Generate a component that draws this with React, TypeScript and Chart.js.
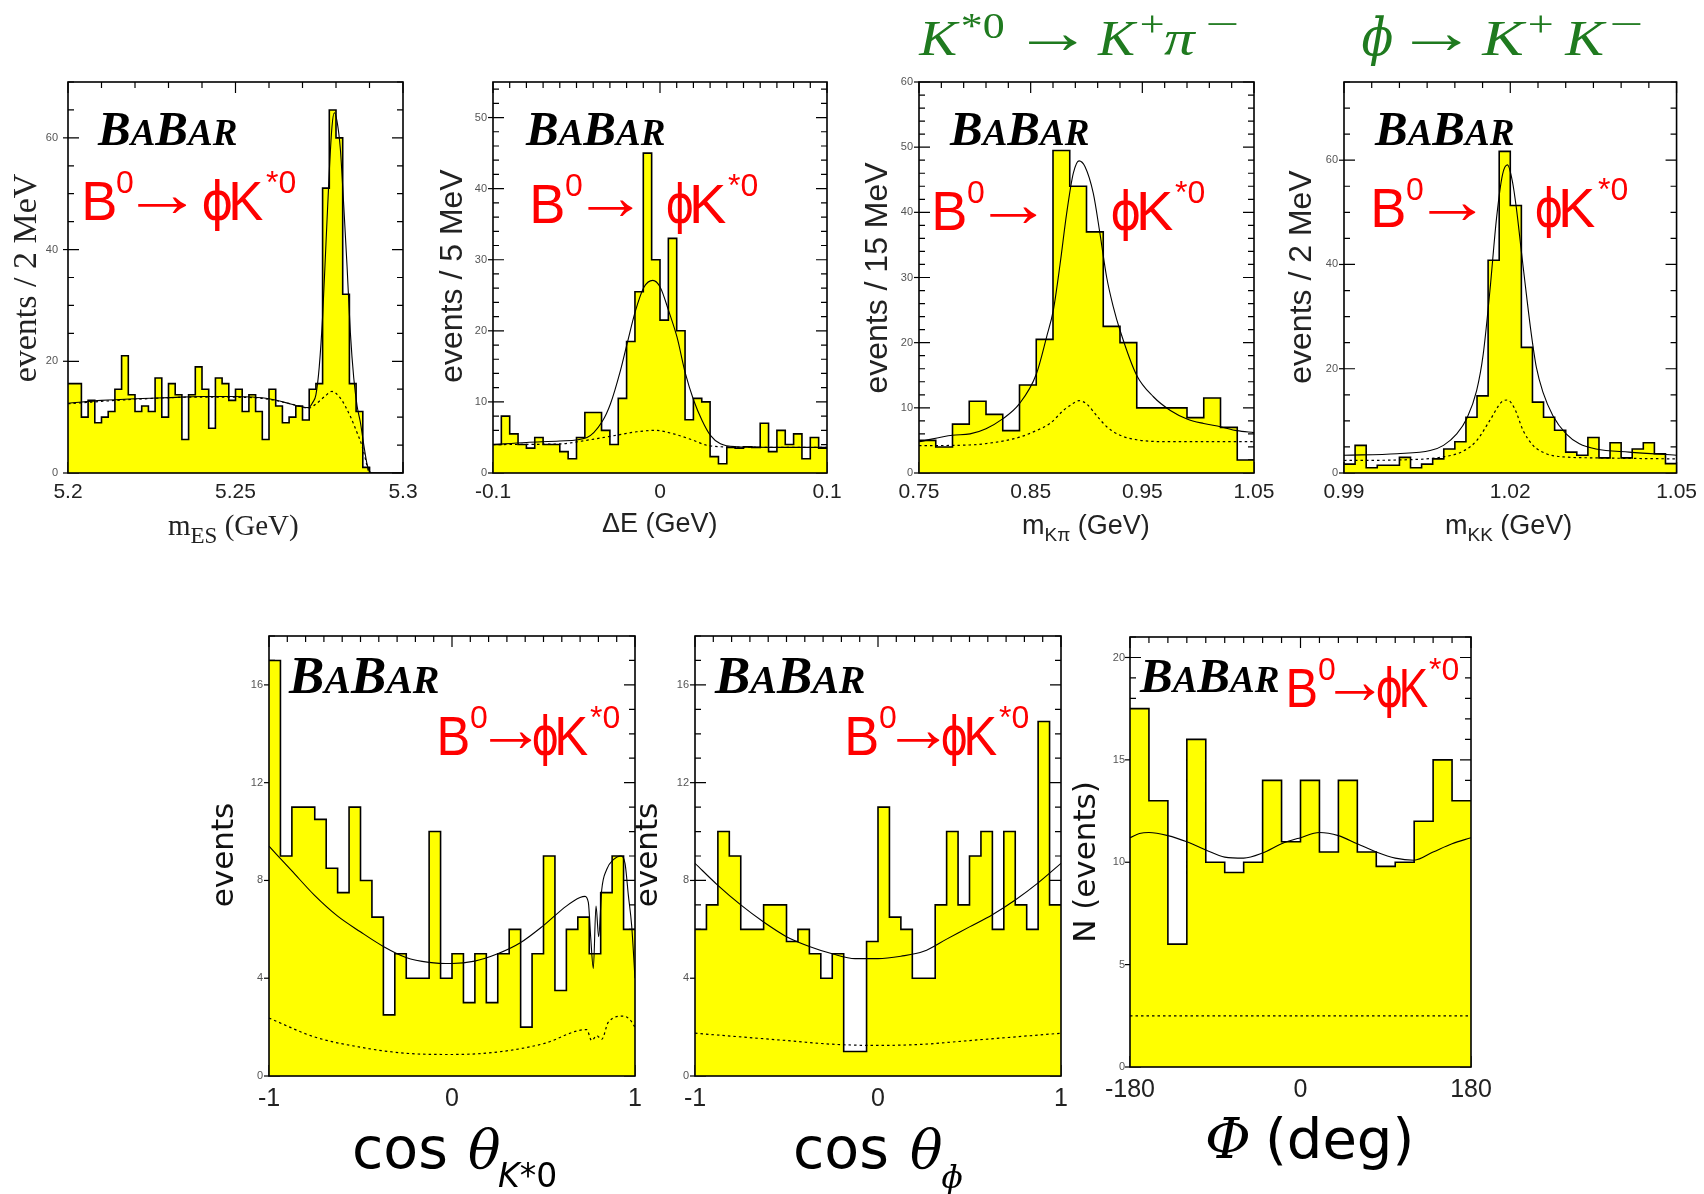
import React, { useEffect, useRef } from "react";
import { Chart, registerables } from "chart.js";

Chart.register(...registerables);

const PAGE_W = 1704;
const PAGE_H = 1194;

/* ================= DATA ================= */
// Panel 1 : m_ES (GeV), 2 MeV bins
const mesRange = [5.2, 5.3];
const mesCounts = [16, 16, 10, 13, 9, 10, 11, 15, 21, 14, 11, 12, 11, 17, 10, 16, 14, 6, 14, 19, 15, 8, 17, 16, 13, 15, 11, 14, 11, 6, 15, 12, 9, 10, 12, 9.5, 15, 16, 51, 65, 60, 32, 16, 11, 1, 0, 0, 0, 0, 0];
const mesFitX = [5.2, 5.21, 5.22, 5.23, 5.24, 5.25, 5.255, 5.26, 5.265, 5.2695, 5.2718, 5.273, 5.274, 5.275, 5.276, 5.277, 5.278, 5.2788, 5.2795, 5.2803, 5.2813, 5.2823, 5.2833, 5.2843, 5.2853, 5.2863, 5.2873, 5.2883, 5.2893, 5.29, 5.2905];
const mesFitY = [12.5, 13.0, 13.3, 13.5, 13.7, 13.7, 13.6, 13.3, 12.6, 11.9, 11.7, 12.6, 14, 19, 28, 41, 54, 62, 64.5, 63, 58, 48, 37, 25, 17, 12, 9, 5, 1.5, 0.3, 0];
const mesBkgX = [5.2, 5.22, 5.24, 5.255, 5.265, 5.2695, 5.2718, 5.2743, 5.2768, 5.2788, 5.2813, 5.2843, 5.2863, 5.2878, 5.2893, 5.2898];
const mesBkgY = [12.4, 13.2, 13.6, 13.5, 12.6, 11.9, 11.6, 12.5, 13.8, 14.6, 13.4, 10.1, 7.2, 4.8, 1.2, 0];
const mesXTicks = [5.2, 5.25, 5.3];
const mesXTickText = ["5.2", "5.25", "5.3"];
const mesYTicks = [0, 20, 40, 60];

// Panel 2 : Delta E (GeV), 5 MeV bins
const deRange = [-0.1, 0.1];
const deCounts = [4, 8, 5.5, 4, 3.5, 5, 4, 4, 3, 2, 5, 8.5, 8.5, 6, 4, 10.5, 18.5, 25.5, 45, 30, 21.5, 33, 20, 7.5, 10.5, 10, 2.3, 1.3, 3.6, 3.5, 3.7, 3.6, 7, 3, 6, 4, 5.5, 2, 5, 3.5];
const deFitX = [-0.1, -0.08, -0.06, -0.0437, -0.0347, -0.0297, -0.0237, -0.0197, -0.0147, -0.0097, -0.0043, 0.0002, 0.0052, 0.0102, 0.0152, 0.0202, 0.0252, 0.0302, 0.0362, 0.0461, 0.076, 0.1];
const deFitY = [4.0, 4.3, 4.5, 5.0, 7.2, 9.7, 14.4, 18.2, 22.8, 26.1, 27.1, 26.1, 22.8, 19.1, 14.0, 10.2, 7.4, 5.3, 4.1, 3.7, 3.6, 3.6];
const deBkgX = [-0.1, -0.0597, -0.044, -0.024, -0.014, -0.003, 0.0082, 0.02, 0.028, 0.046, 0.1];
const deBkgY = [4.0, 4.1, 4.6, 5.4, 5.8, 6.0, 5.5, 4.6, 3.9, 3.65, 3.6];
const deXTicks = [-0.1, 0, 0.1];
const deXTickText = ["-0.1", "0", "0.1"];
const deYTicks = [0, 10, 20, 30, 40, 50];

// Panel 3 : m_Kpi (GeV), 15 MeV bins
const mkpiRange = [0.75, 1.05];
const mkpiCounts = [5, 4, 7.5, 11, 9, 6.5, 13.5, 20.5, 49.5, 44, 37, 22.5, 20, 10, 10, 10, 8.5, 11.5, 7, 2];
const mkpiFitX = [0.75, 0.7799, 0.7957, 0.81, 0.8249, 0.8398, 0.8551, 0.8643, 0.8703, 0.8763, 0.8822, 0.8882, 0.8933, 0.8987, 0.9061, 0.9121, 0.9181, 0.924, 0.93, 0.9449, 0.9599, 0.9751, 0.99, 1.0049, 1.0199, 1.0348, 1.05];
const mkpiFitY = [4.8, 5.8, 6.0, 6.8, 8.3, 10.6, 15.2, 20.9, 25, 32, 39.8, 46, 47.9, 47, 42.9, 36.7, 30, 25.5, 21.9, 15, 11.7, 9.6, 8.3, 7.6, 7.1, 6.5, 6.2];
const mkpiBkgX = [0.75, 0.795, 0.825, 0.84, 0.855, 0.8673, 0.8793, 0.8882, 0.8933, 0.9001, 0.9091, 0.9181, 0.93, 0.9449, 0.9751, 1.0049, 1.05];
const mkpiBkgY = [4.2, 4.3, 4.9, 5.5, 6.5, 7.6, 9.6, 10.7, 11.1, 10.6, 8.8, 7.1, 5.8, 5.1, 4.8, 4.8, 4.8];
const mkpiXTicks = [0.75, 0.85, 0.95, 1.05];
const mkpiXTickText = ["0.75", "0.85", "0.95", "1.05"];
const mkpiYTicks = [0, 10, 20, 30, 40, 50, 60];

// Panel 4 : m_KK (GeV), 2 MeV bins
const mkkRange = [0.99, 1.05];
const mkkCounts = [1.7, 5.3, 1, 1.5, 1.5, 3, 1, 1.7, 2.7, 4.6, 6, 10.7, 14.8, 40.8, 61.7, 51.3, 24.1, 13.6, 10.7, 8.2, 4, 3.4, 6.8, 2.9, 5.8, 2.9, 4.6, 5.8, 3.7, 1.8];
const mkkFitX = [0.99, 0.99957, 1.00555, 1.00795, 1.01034, 1.01213, 1.01393, 1.01512, 1.01632, 1.01752, 1.01859, 1.01949, 1.02039, 1.0211, 1.022, 1.0229, 1.0238, 1.0247, 1.02589, 1.02769, 1.03008, 1.03247, 1.03546, 1.04145, 1.05];
const mkkFitY = [3.4, 3.7, 4.3, 5.3, 7.5, 10.4, 15.8, 22.8, 34.9, 48.9, 57.2, 59.1, 55.9, 50.8, 42.5, 34.3, 26.6, 20.3, 15.5, 11, 7.5, 5.6, 4.6, 4.0, 3.4];
const mkkBkgX = [0.99, 0.99957, 1.00795, 1.01153, 1.01393, 1.01632, 1.01841, 1.01949, 1.02081, 1.0223, 1.0241, 1.0265, 1.0295, 1.03546, 1.05];
const mkkBkgY = [2.4, 2.5, 3.1, 4.2, 6.2, 10.1, 13.6, 14, 12.3, 8.2, 5.3, 3.7, 3.1, 2.9, 2.7];
const mkkXTicks = [0.99, 1.02, 1.05];
const mkkXTickText = ["0.99", "1.02", "1.05"];
const mkkYTicks = [0, 20, 40, 60];

// Panel 5 : cos theta_K*0
const ck_Range = [-1, 1];
const ckCounts = [17, 9, 11, 11, 10.5, 8.5, 7.5, 11, 8, 6.5, 2.5, 5, 4, 4, 10, 4, 5, 3, 5, 3, 5, 6, 2, 5, 9, 3.5, 6, 6.5, 5, 7.5, 9, 6];
const ckFitX = [-1, -0.8761, -0.7523, -0.6266, -0.5009, -0.3752, -0.2514, -0.1257, 0, 0.1239, 0.2495, 0.3734, 0.4991, 0.6248, 0.6995, 0.7268, 0.745, 0.7577, 0.7723, 0.7869, 0.8015, 0.8179, 0.8452, 0.8816, 0.9217, 0.9454, 0.9636, 0.9818, 1];
const ckFitY = [9.4, 8.4, 7.4, 6.55, 5.9, 5.3, 4.85, 4.65, 4.6, 4.7, 5.0, 5.45, 6.15, 6.95, 7.3, 7.35, 7.1, 5.7, 4.4, 6.95, 5.7, 7.6, 8.45, 8.85, 9.0, 8.7, 7.4, 6.15, 4.0];
const ckBkgX = [-1, -0.7523, -0.5027, -0.2532, -0.0073, 0.2495, 0.4991, 0.7359, 0.7632, 0.7905, 0.8179, 0.8543, 0.9362, 0.9727, 1];
const ckBkgY = [2.37, 1.6, 1.18, 0.93, 0.88, 0.98, 1.32, 1.9, 1.45, 1.65, 1.5, 2.2, 2.45, 2.3, 2.0];
const cosXTicks = [-1, 0, 1];
const cosXTickText = ["-1", "0", "1"];
const cosYTicks = [0, 4, 8, 12, 16];

// Panel 6 : cos theta_phi
const cpCounts = [6, 7, 10, 9, 6, 6, 7, 7, 5.5, 6, 5, 4, 5, 1, 1, 5.5, 11, 6.5, 6, 4, 4, 7, 10, 7, 9, 10, 6, 10, 7, 6, 14.5, 7];
const cpFitX = [-1, -0.875, -0.75, -0.625, -0.5, -0.375, -0.25, -0.125, 0, 0.125, 0.25, 0.375, 0.5, 0.625, 0.75, 0.875, 1];
const cpFitY = [8.7, 7.8, 7.0, 6.3, 5.7, 5.3, 5.0, 4.8, 4.8, 4.9, 5.1, 5.6, 6.1, 6.6, 7.2, 7.9, 8.7];
const cpBkgX = [-1, -0.5, -0.25, 0, 0.25, 0.5, 1];
const cpBkgY = [1.75, 1.45, 1.3, 1.25, 1.3, 1.45, 1.75];

// Panel 7 : Phi (deg)
const phRange = [-180, 180];
const phCounts = [17.5, 13, 6, 16, 10, 9.5, 10, 14, 11, 14, 10.5, 14, 10.5, 9.8, 10, 12, 15, 13];
const phFitX = [-180, -170, -160, -140, -120, -100, -80, -60, -40, -20, 0, 20, 40, 60, 80, 100, 120, 140, 160, 180];
const phFitY = [11.2, 11.4, 11.45, 11.3, 11.0, 10.6, 10.25, 10.2, 10.45, 10.9, 11.2, 11.45, 11.3, 10.9, 10.5, 10.2, 10.1, 10.5, 10.9, 11.2];
const phBkgX = [-180, 180];
const phBkgY = [2.5, 2.5];
const phXTicks = [-180, 0, 180];
const phXTickText = ["-180", "0", "180"];
const phYTicks = [0, 5, 10, 15, 20];

/* ================= DRAWING HELPERS ================= */
const SANS = '"Liberation Sans", "DejaVu Sans", Arial, sans-serif';
const SERIF = '"Liberation Serif", "DejaVu Serif", "Times New Roman", serif';
const DJ = '"DejaVu Sans", sans-serif';
const DJSERIF = '"DejaVu Serif", "Liberation Serif", serif';
const GREEN = "#1f7a1f";
const RED = "#ff0000";
const f = (size: number, fam: string, style = "normal", weight = "normal") => `${style} ${weight} ${size}px ${fam}`;

// w: stretch the ink (glyph outline) horizontally to exactly w pixels, starting at x
type Run = { t: string; font: string; x?: number; dy?: number; w?: number };

function runs(ctx: CanvasRenderingContext2D, x0: number, base: number, list: Run[], color: string) {
  let x = x0;
  ctx.save();
  ctx.fillStyle = color;
  ctx.textAlign = "left";
  ctx.textBaseline = "alphabetic";
  for (const r of list) {
    if (r.x !== undefined) x = r.x;
    ctx.font = r.font;
    const m = ctx.measureText(r.t);
    if (r.w) {
      const ink = Math.max(1, m.actualBoundingBoxLeft + m.actualBoundingBoxRight);
      const sx = r.w / ink;
      ctx.save();
      ctx.translate(x + m.actualBoundingBoxLeft * sx, base + (r.dy || 0));
      ctx.scale(sx, 1);
      ctx.fillText(r.t, 0, 0);
      ctx.restore();
      x += r.w;
    } else {
      ctx.fillText(r.t, x, base + (r.dy || 0));
      x += m.width;
    }
  }
  ctx.restore();
}

function vtext(ctx: CanvasRenderingContext2D, cx: number, cy: number, t: string, font: string, color = "#111") {
  ctx.save();
  ctx.translate(cx, cy);
  ctx.rotate(-Math.PI / 2);
  ctx.font = font;
  ctx.fillStyle = color;
  ctx.textAlign = "center";
  ctx.textBaseline = "middle";
  ctx.fillText(t, 0, 0);
  ctx.restore();
}

function babar(ctx: CanvasRenderingContext2D, x: number, base: number, s = 1) {
  runs(ctx, x, base, [
    { t: "B", font: f(49 * s, SERIF, "italic", "bold") },
    { t: "A", font: f(37 * s, SERIF, "italic", "bold") },
    { t: "B", font: f(49 * s, SERIF, "italic", "bold") },
    { t: "AR", font: f(37 * s, SERIF, "italic", "bold") },
  ], "#000");
}

type Decay = { b: number; bw: number; z: number; a: number; aw: number; p: number; k: number; kw: number; s: number; base: number };
function decay(ctx: CanvasRenderingContext2D, d: Decay) {
  runs(ctx, d.b, d.base, [
    { t: "B", x: d.b, w: d.bw, font: f(56, SANS) },
    { t: "0", x: d.z, dy: -27, font: f(32, SANS) },
    { t: "\u2192", x: d.a, w: d.aw, dy: -4, font: f(66, SERIF) },
    { t: "\u0278", x: d.p, w: d.k - d.p - 1, font: f(54, DJ) },
    { t: "K", x: d.k, w: d.kw, font: f(56, SANS) },
    { t: "*0", x: d.s, dy: -27, font: f(32, SANS) },
  ], RED);
}

/* ================= PANELS ================= */
type Panel = {
  box: { l: number; t: number; r: number; b: number };
  range: number[];
  yMax: number;
  counts: number[];
  fitX: number[]; fitY: number[];
  bkgX: number[]; bkgY: number[];
  xTicks: number[]; xTickText: string[]; xMinor: number;
  yTicks: number[]; yMinor: number;
  xFont: number; xPad: number; yPad: number;
  draw: (ctx: CanvasRenderingContext2D) => void;
};

const panels: Panel[] = [
  {
    box: { l: 68, t: 82, r: 403, b: 473 }, range: mesRange, yMax: 70,
    counts: mesCounts, fitX: mesFitX, fitY: mesFitY, bkgX: mesBkgX, bkgY: mesBkgY,
    xTicks: mesXTicks, xTickText: mesXTickText, xMinor: 0.01, yTicks: mesYTicks, yMinor: 5,
    xFont: 21, xPad: 7, yPad: 10,
    draw: (ctx) => {
      babar(ctx, 98, 145);
      decay(ctx, { b: 85, bw: 30, z: 116, a: 138, aw: 49, p: 203, k: 232, kw: 31, s: 266, base: 220 });
      vtext(ctx, 27, 278, "events / 2 MeV", f(34, SERIF), "#222");
      runs(ctx, 168, 535, [
        { t: "m", font: f(29, SERIF) },
        { t: "ES", font: f(23, SERIF), dy: 8 },
        { t: " (GeV)", font: f(29, SERIF) },
      ], "#222");
    },
  },
  {
    box: { l: 493, t: 82, r: 827, b: 473 }, range: deRange, yMax: 55,
    counts: deCounts, fitX: deFitX, fitY: deFitY, bkgX: deBkgX, bkgY: deBkgY,
    xTicks: deXTicks, xTickText: deXTickText, xMinor: 0.01, yTicks: deYTicks, yMinor: 2,
    xFont: 21, xPad: 7, yPad: 6,
    draw: (ctx) => {
      babar(ctx, 526, 145);
      decay(ctx, { b: 533, bw: 30, z: 565, a: 588, aw: 45, p: 667, k: 693, kw: 33, s: 728, base: 223 });
      vtext(ctx, 453, 276, "events / 5 MeV", f(32, SANS), "#222");
      runs(ctx, 602, 532, [{ t: "\u0394E (GeV)", font: f(27, SANS) }], "#222");
    },
  },
  {
    box: { l: 919, t: 82, r: 1254, b: 473 }, range: mkpiRange, yMax: 60,
    counts: mkpiCounts, fitX: mkpiFitX, fitY: mkpiFitY, bkgX: mkpiBkgX, bkgY: mkpiBkgY,
    xTicks: mkpiXTicks, xTickText: mkpiXTickText, xMinor: 0.02, yTicks: mkpiYTicks, yMinor: 2,
    xFont: 21, xPad: 7, yPad: 6,
    draw: (ctx) => {
      babar(ctx, 950, 145);
      decay(ctx, { b: 935, bw: 30, z: 967, a: 990, aw: 47, p: 1112, k: 1140, kw: 33, s: 1175, base: 230 });
      vtext(ctx, 878, 278, "events / 15 MeV", f(32, SANS), "#222");
      runs(ctx, 1022, 534, [
        { t: "m", font: f(27, SANS) },
        { t: "K\u03c0", font: f(19, SANS), dy: 7 },
        { t: " (GeV)", font: f(27, SANS) },
      ], "#222");
      runs(ctx, 918, 55, [
        { t: "K", x: 918, w: 42, font: f(50, SERIF, "italic") },
        { t: "*0", x: 962, w: 42, dy: -17, font: f(35, SERIF) },
        { t: "\u2192", x: 1028, w: 49, dy: -2, font: f(62, SERIF) },
        { t: "K", x: 1097, w: 41, font: f(50, SERIF, "italic") },
        { t: "+", x: 1141, w: 22, dy: -19, font: f(36, SERIF) },
        { t: "\u03c0", x: 1164, w: 33, font: f(50, SERIF, "italic") },
        { t: "\u2212", x: 1207, w: 30, dy: -19, font: f(36, SERIF) },
      ], GREEN);
    },
  },
  {
    box: { l: 1344, t: 82, r: 1678, b: 473 }, range: mkkRange, yMax: 75,
    counts: mkkCounts, fitX: mkkFitX, fitY: mkkFitY, bkgX: mkkBkgX, bkgY: mkkBkgY,
    xTicks: mkkXTicks, xTickText: mkkXTickText, xMinor: 0.005, yTicks: mkkYTicks, yMinor: 5,
    xFont: 21, xPad: 7, yPad: 6,
    draw: (ctx) => {
      babar(ctx, 1375, 145);
      decay(ctx, { b: 1374, bw: 30, z: 1406, a: 1429, aw: 47, p: 1536, k: 1562, kw: 33, s: 1598, base: 227 });
      vtext(ctx, 1302, 277, "events / 2 MeV", f(32, SANS), "#222");
      runs(ctx, 1445, 534, [
        { t: "m", font: f(27, SANS) },
        { t: "KK", font: f(19, SANS), dy: 7 },
        { t: " (GeV)", font: f(27, SANS) },
      ], "#222");
      runs(ctx, 1362, 55, [
        { t: "\u0278", x: 1362, w: 31, font: f(52, DJSERIF, "italic") },
        { t: "\u2192", x: 1411, w: 50, dy: -2, font: f(62, SERIF) },
        { t: "K", x: 1481, w: 46, font: f(50, SERIF, "italic") },
        { t: "+", x: 1529, w: 23, dy: -19, font: f(36, SERIF) },
        { t: "K", x: 1564, w: 43, font: f(50, SERIF, "italic") },
        { t: "\u2212", x: 1611, w: 30, dy: -19, font: f(36, SERIF) },
      ], GREEN);
    },
  },
  {
    box: { l: 269, t: 636, r: 635, b: 1076 }, range: ck_Range, yMax: 18,
    counts: ckCounts, fitX: ckFitX, fitY: ckFitY, bkgX: ckBkgX, bkgY: ckBkgY,
    xTicks: cosXTicks, xTickText: cosXTickText, xMinor: 0.1, yTicks: cosYTicks, yMinor: 1,
    xFont: 25, xPad: 8, yPad: 6,
    draw: (ctx) => {
      babar(ctx, 289, 693, 1.08);
      decay(ctx, { b: 440, bw: 28, z: 470, a: 490, aw: 42, p: 533, k: 558, kw: 30, s: 590, base: 755 });
      vtext(ctx, 225, 855, "events", f(31, DJ), "#111");
      runs(ctx, 352, 1168, [
        { t: "cos", x: 352, font: f(57, DJ) },
        { t: "\u03b8", x: 468, font: f(54, DJSERIF, "italic") },
        { t: "K", x: 498, dy: 19, font: f(33, DJ, "italic") },
        { t: "*0", dy: 19, font: f(33, DJ) },
      ], "#000");
    },
  },
  {
    box: { l: 695, t: 636, r: 1061, b: 1076 }, range: ck_Range, yMax: 18,
    counts: cpCounts, fitX: cpFitX, fitY: cpFitY, bkgX: cpBkgX, bkgY: cpBkgY,
    xTicks: cosXTicks, xTickText: cosXTickText, xMinor: 0.1, yTicks: cosYTicks, yMinor: 1,
    xFont: 25, xPad: 8, yPad: 6,
    draw: (ctx) => {
      babar(ctx, 715, 693, 1.08);
      decay(ctx, { b: 848, bw: 29, z: 879, a: 897, aw: 43, p: 942, k: 967, kw: 30, s: 999, base: 755 });
      vtext(ctx, 649, 855, "events", f(31, DJ), "#111");
      runs(ctx, 793, 1168, [
        { t: "cos", x: 793, font: f(57, DJ) },
        { t: "\u03b8", x: 910, font: f(54, DJSERIF, "italic") },
        { t: "\u0278", x: 941, dy: 20, font: f(32, DJSERIF, "italic") },
      ], "#000");
    },
  },
  {
    box: { l: 1130, t: 637, r: 1471, b: 1067 }, range: phRange, yMax: 21,
    counts: phCounts, fitX: phFitX, fitY: phFitY, bkgX: phBkgX, bkgY: phBkgY,
    xTicks: phXTicks, xTickText: phXTickText, xMinor: 20, yTicks: phYTicks, yMinor: 1,
    xFont: 25, xPad: 8, yPad: 5,
    draw: (ctx) => {
      babar(ctx, 1140, 692);
      decay(ctx, { b: 1289, bw: 27, z: 1318, a: 1335, aw: 40, p: 1377, k: 1402, kw: 26, s: 1429, base: 707 });
      vtext(ctx, 1087, 862, "N (events)", f(31, DJ), "#111");
      runs(ctx, 1205, 1158, [
        { t: "\u03a6", x: 1205, font: f(56, DJSERIF, "italic") },
        { t: "(deg)", x: 1265, font: f(56, DJ) },
      ], "#000");
    },
  },
];

/* ================= CHART BUILDING ================= */
function histPoints(range: number[], counts: number[]) {
  const w = (range[1] - range[0]) / counts.length;
  const pts = counts.map((c, i) => ({ x: range[0] + i * w, y: c }));
  pts.push({ x: range[1], y: counts[counts.length - 1] });
  return pts;
}

function drawTicks(chart: any, p: Panel) {
  const { ctx, chartArea: a } = chart;
  const xs = chart.scales.x;
  const ys = chart.scales.y;
  ctx.save();
  ctx.strokeStyle = "#000";
  ctx.lineWidth = 1.2;
  const nx = Math.round((p.range[1] - p.range[0]) / p.xMinor);
  for (let i = 0; i <= nx; i++) {
    const v = p.range[0] + i * p.xMinor;
    const major = p.xTicks.some((t) => Math.abs(t - v) < p.xMinor * 0.05);
    const px = xs.getPixelForValue(v);
    const len = major ? 11 : 6;
    ctx.beginPath();
    ctx.moveTo(px, a.top);
    ctx.lineTo(px, a.top + len);
    ctx.moveTo(px, a.bottom);
    ctx.lineTo(px, a.bottom - len);
    ctx.stroke();
  }
  const ny = Math.floor(p.yMax / p.yMinor + 1e-6);
  for (let i = 0; i <= ny; i++) {
    const v = i * p.yMinor;
    const major = p.yTicks.some((t) => Math.abs(t - v) < 1e-6);
    const py = ys.getPixelForValue(v);
    const len = major ? 11 : 6;
    ctx.beginPath();
    ctx.moveTo(a.right, py);
    ctx.lineTo(a.right - len, py);
    ctx.moveTo(a.left, py);
    ctx.lineTo(a.left + len, py);
    ctx.stroke();
  }
  ctx.restore();
}

function drawFrame(chart: any, p: Panel) {
  const { ctx, chartArea: a } = chart;
  const ys = chart.scales.y;
  ctx.save();
  ctx.strokeStyle = "#000";
  ctx.lineWidth = 1.2;
  for (const t of p.yTicks) {
    const py = ys.getPixelForValue(t);
    ctx.beginPath();
    ctx.moveTo(a.left - 5, py);
    ctx.lineTo(a.left, py);
    ctx.stroke();
  }
  ctx.lineWidth = 1.6;
  ctx.strokeRect(a.left, a.top, a.right - a.left, a.bottom - a.top);
  ctx.restore();
}

function buildConfig(p: Panel): any {
  const yW = 40;
  const xH = 40;
  return {
    type: "line",
    data: {
      datasets: [
        {
          data: p.fitX.map((x, i) => ({ x, y: p.fitY[i] })),
          borderColor: "#000", borderWidth: 1.1, pointRadius: 0, fill: false,
          cubicInterpolationMode: "monotone",
        },
        {
          data: p.bkgX.map((x, i) => ({ x, y: p.bkgY[i] })),
          borderColor: "#000", borderWidth: 1.2, borderDash: [2.5, 3], pointRadius: 0, fill: false,
          cubicInterpolationMode: "monotone",
        },
        {
          data: histPoints(p.range, p.counts),
          borderColor: "#000", borderWidth: 1.6, backgroundColor: "#ffff00",
          fill: "origin", stepped: "before", pointRadius: 0,
        },
      ],
    },
    options: {
      responsive: false,
      animation: false,
      devicePixelRatio: 1,
      events: [],
      layout: {
        padding: { left: p.box.l - yW, top: p.box.t, right: PAGE_W - p.box.r, bottom: PAGE_H - p.box.b - xH },
      },
      plugins: { legend: { display: false }, tooltip: { enabled: false }, title: { display: false } },
      scales: {
        x: {
          type: "linear", min: p.range[0], max: p.range[1],
          grid: { display: false, drawTicks: false, tickLength: 0 },
          border: { display: false },
          ticks: {
            autoSkip: false, maxRotation: 0, minRotation: 0, padding: p.xPad, color: "#222",
            font: { family: SANS, size: p.xFont },
            callback: (_v: any, i: number) => p.xTickText[i],
          },
          afterBuildTicks: (s: any) => { s.ticks = p.xTicks.map((v) => ({ value: v })); },
          afterFit: (s: any) => { s.height = xH; },
        },
        y: {
          type: "linear", min: 0, max: p.yMax,
          grid: { display: false, drawTicks: false, tickLength: 0 },
          border: { display: false },
          ticks: {
            autoSkip: false, padding: p.yPad, color: "#555",
            font: { family: SANS, size: 11 },
            callback: (v: any) => String(v),
          },
          afterBuildTicks: (s: any) => { s.ticks = p.yTicks.map((v) => ({ value: v })); },
          afterFit: (s: any) => { s.width = yW; },
        },
      },
    },
    plugins: [
      {
        id: "babarDecor",
        beforeDatasetsDraw: (chart: any) => drawTicks(chart, p),
        afterDraw: (chart: any) => {
          drawFrame(chart, p);
          p.draw(chart.ctx);
        },
      },
    ],
  };
}

function PanelChart({ p }: { p: Panel }) {
  const ref = useRef<HTMLCanvasElement | null>(null);
  useEffect(() => {
    const c = ref.current;
    if (!c) return;
    const chart = new Chart(c, buildConfig(p));
    return () => chart.destroy();
  }, [p]);
  return (
    <canvas
      ref={ref}
      width={PAGE_W}
      height={PAGE_H}
      style={{ position: "absolute", left: 0, top: 0, width: PAGE_W, height: PAGE_H }}
    />
  );
}

export default function App() {
  return (
    <div style={{ position: "absolute", left: 0, top: 0, width: PAGE_W, height: PAGE_H, background: "#fff", overflow: "hidden" }}>
      {panels.map((p, i) => (
        <PanelChart key={i} p={p} />
      ))}
    </div>
  );
}
